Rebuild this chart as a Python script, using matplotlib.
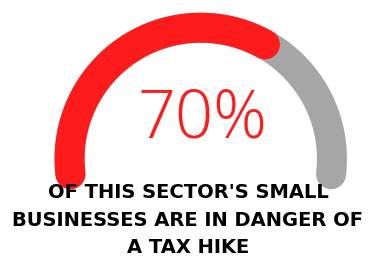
import numpy as np
import matplotlib.pyplot as plt

value = 70
label = "70%"
caption = ["OF THIS SECTOR'S SMALL", "BUSINESSES ARE IN DANGER OF", "A TAX HIKE"]

red = "#fe1b1b"
grey = "#a6a6a6"

fig = plt.figure(figsize=(3.7, 2.58), dpi=100)
ax = fig.add_axes([0, 0, 1, 1])
ax.set_xlim(0, 370)
ax.set_ylim(258, 0)
ax.axis("off")

# gauge geometry (pixels)
cx, cy, r = 200.75, 158.9, 131.2
start, end = 186.7, -6.7

def arc(a0, a1):
    t = np.radians(np.linspace(a0, a1, 200))
    return cx + r * np.cos(t), cy - r * np.sin(t)

x, y = arc(start, end)
ax.plot(x, y, color=grey, lw=21.6, solid_capstyle="round")
x, y = arc(start, start - value / 100 * 180)
ax.plot(x, y, color=red, lw=21.6, solid_capstyle="round")

ax.text(202, 137, label, color=red, fontsize=48, family="Open Sans",
        weight=300, ha="center", va="baseline")

for i, line in enumerate(caption):
    ax.text(188, 198 + 27.5 * i, line, fontsize=14, family="DejaVu Sans",
            weight="bold", ha="center", va="baseline")

fig.savefig("out.png", dpi=100)
